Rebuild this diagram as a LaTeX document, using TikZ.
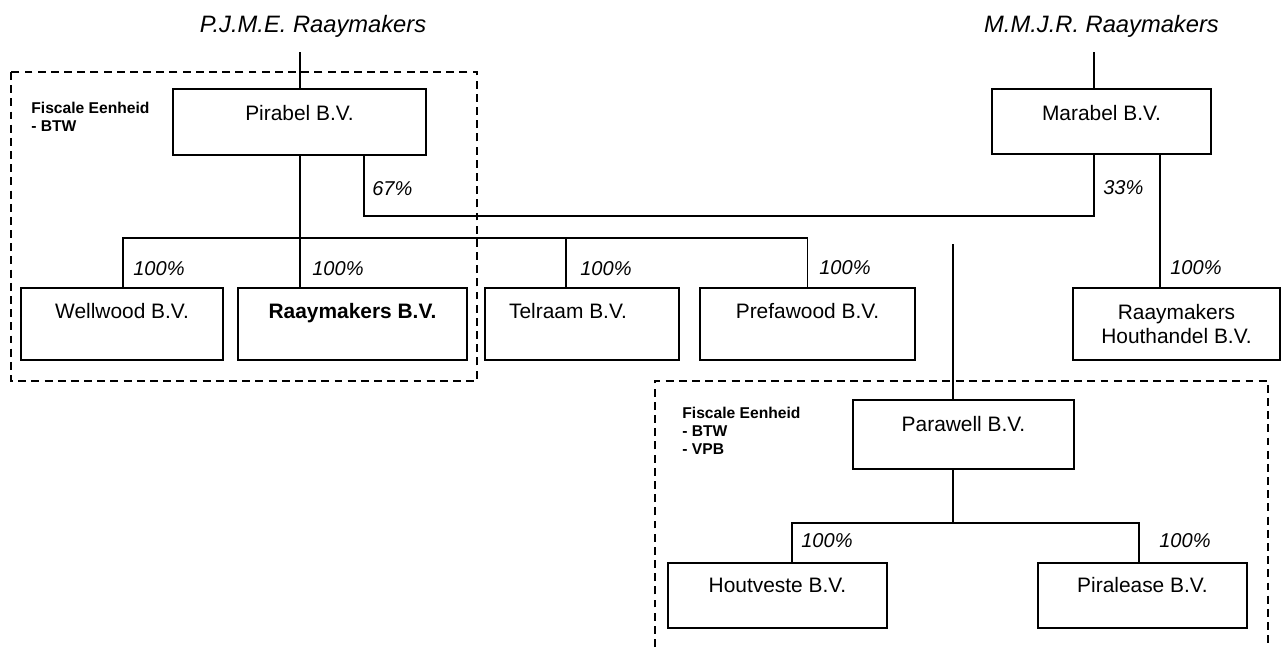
\documentclass[tikz,border=0pt]{standalone}
\usepackage{fontspec}
\setmainfont{Liberation Sans}
\tikzset{
  entity/.style={draw, line width=1pt, inner sep=0pt, anchor=north, font=\fontsize{11.9}{13.6}\selectfont},
  topbox/.style={entity, text height=0.64cm, text depth=0.68cm},
  midbox/.style={entity, text height=0.62cm, text depth=0.82cm},
  leafbox/.style={entity, text height=0.6cm, text depth=0.7cm},
  owner/.style={inner sep=0pt, anchor=base, font=\fontsize{13.5}{16}\selectfont\itshape},
  pct/.style={inner sep=0pt, anchor=base west, font=\fontsize{11.4}{14}\selectfont\itshape},
  fiscal/.style={inner sep=0pt, anchor=north west, align=left, font=\fontsize{8.9}{10.2}\selectfont\bfseries},
  unitbox/.style={dash pattern=on 4.5pt off 3pt, line width=0.8pt},
  link/.style={line width=0.75pt}
}
\begin{document}
\begin{tikzpicture}[x=0.02cm, y=-0.02cm]
    \useasboundingbox (0,0) rectangle (1282,647);

    % Fiscal units (dashed)
    \draw[unitbox] (11,72) rectangle (477,381);
    \draw[unitbox] (655,647) -- (655,381) -- (1268,381) -- (1268,647);
    \node[fiscal] (fe1) at (31,101.5) {Fiscale Eenheid\\- BTW};
    \node[fiscal] (fe2) at (682,407) {Fiscale Eenheid\\- BTW\\- VPB};

    % Shareholders
    \node[owner] (pjme) at (313,32) {P.J.M.E. Raaymakers};
    \node[owner] (mmjr) at (1101.5,32) {M.M.J.R. Raaymakers};

    % Holdings
    \node[topbox, minimum width=5.06cm] (pirabel) at (299.5,88) {Pirabel B.V.};
    \node[topbox, minimum width=4.38cm, text depth=0.66cm] (marabel) at (1101.5,88) {Marabel B.V.};

    % Subsidiaries
    \node[midbox, minimum width=4.04cm] (wellwood) at (122,287) {Wellwood B.V.};
    \node[midbox, minimum width=4.58cm] (raaymakers) at (352.5,287) {\bfseries Raaymakers B.V.};
    \node[midbox, minimum width=3.88cm] (telraam) at (582,287) {Telraam B.V.\hspace*{0.56cm}};
    \node[midbox, minimum width=4.3cm] (prefawood) at (807.5,287) {Prefawood B.V.};
    \node[entity, align=center, minimum width=4.14cm, minimum height=1.44cm] (houthandel) at (1176.5,287) {Raaymakers\\Houthandel B.V.};

    % Parawell group
    \node[topbox, minimum width=4.42cm, text depth=0.74cm] (parawell) at (963.5,399) {Parawell B.V.};
    \node[leafbox, minimum width=4.38cm] (houtveste) at (777.5,562) {Houtveste B.V.};
    \node[leafbox, minimum width=4.18cm] (piralease) at (1142.5,562) {Piralease B.V.};

    % Helper coordinates
    \coordinate (pjmeleg) at (300,52);
    \coordinate (mmjrleg) at (1094,52);
    \coordinate (pwleg) at (953,244);
    \coordinate (jointbar) at (0,216);
    \coordinate (subbar) at (0,238);
    \coordinate (leafbar) at (0,523);

    % Ownership lines
    \draw[link] (pjmeleg) -- (pjmeleg |- pirabel.north);
    \draw[link] (mmjrleg) -- (mmjrleg |- marabel.north);
    \draw[link] ([xshift=1.29cm]pirabel.south) |- ([xshift=-0.15cm]marabel.south |- jointbar) -- ([xshift=-0.15cm]marabel.south);
    \draw[link] (pjmeleg |- pirabel.south) -- (pjmeleg |- raaymakers.north);
    \draw[link] ([xshift=0.02cm]wellwood.north) |- (prefawood.north |- subbar) -- (prefawood.north);
    \draw[link] ([xshift=-0.32cm]telraam.north) -- ([xshift=-0.32cm]telraam.north |- subbar);
    \draw[link] ([xshift=1.17cm]marabel.south) -- ([xshift=1.17cm]marabel.south |- houthandel.north);
    \draw[link] (pwleg) -- (pwleg |- parawell.north);
    \draw[link] ([xshift=-0.21cm]parawell.south) -- ([xshift=-0.21cm]parawell.south |- leafbar);
    \draw[link] ([xshift=0.29cm]houtveste.north) |- ([xshift=-0.07cm]piralease.north |- leafbar) -- ([xshift=-0.07cm]piralease.north);

    % Percentages
    \node[pct] (s67) at (372,195) {67\%};
    \node[pct] (s33) at (1103,194) {33\%};
    \node[pct] (s1) at (133,275) {100\%};
    \node[pct] (s2) at (312,275) {100\%};
    \node[pct] (s3) at (580,275) {100\%};
    \node[pct] (s4) at (819,274) {100\%};
    \node[pct] (s5) at (1170,274) {100\%};
    \node[pct] (s6) at (801,547) {100\%};
    \node[pct] (s7) at (1159,547) {100\%};

\end{tikzpicture}
\end{document}
